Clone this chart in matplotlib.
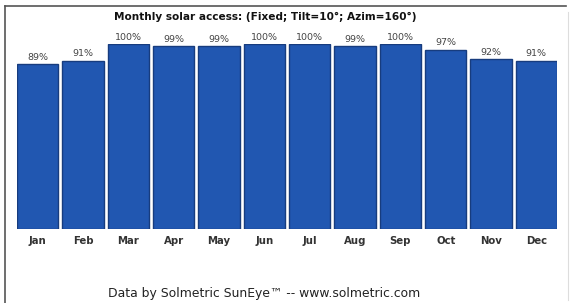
import matplotlib
matplotlib.use("Agg")
import matplotlib.pyplot as plt
from matplotlib.lines import Line2D

months = ["Jan", "Feb", "Mar", "Apr", "May", "Jun", "Jul", "Aug", "Sep", "Oct", "Nov", "Dec"]
access = [89, 91, 100, 99, 99, 100, 100, 99, 100, 97, 92, 91]
title = "Monthly solar access: (Fixed; Tilt=10°; Azim=160°)"
footer = "Data by Solmetric SunEye™ -- www.solmetric.com"

W, H = 574, 303
fig = plt.figure(figsize=(W / 100, H / 100), dpi=100)
fig.patch.set_facecolor("white")

ax = fig.add_axes([17 / W, 1 - 229 / H, 540 / W, (229 - 44) / H])
x = list(range(len(months)))
bars = ax.bar(x, access, width=0.91, color="#2157b1", edgecolor="#173c7e", linewidth=1.0)
ax.set_xlim(-0.455, len(months) - 0.545)
ax.set_ylim(0, 100)
for b, v in zip(bars, access):
    ax.text(b.get_x() + b.get_width() / 2, v + 1.2, f"{v}%", ha="center", va="bottom",
            fontsize=6.8, color="#444444", clip_on=False)
ax.set_xticks(x)
ax.set_xticklabels(months, fontsize=7.3, fontweight="bold", color="#333333")
ax.tick_params(axis="x", length=0, pad=5)
ax.set_yticks([])
for s in ax.spines.values():
    s.set_visible(False)

fig.text(265 / W, 1 - 17 / H, title, ha="center", va="center", fontsize=7.6,
         fontweight="bold", color="#111111")
fig.text(264 / W, 1 - 293 / H, footer, ha="center", va="center", fontsize=8.9, color="#222222")

# frame lines
fig.add_artist(Line2D([5 / W, 566 / W], [1 - 6 / H, 1 - 6 / H], color="#555555", lw=1.2))
fig.add_artist(Line2D([5 / W, 5 / W], [1 - 6 / H, 0], color="#555555", lw=1.2))
fig.add_artist(Line2D([568 / W, 568 / W], [1 - 12 / H, 1 - 300 / H], color="#dddddd", lw=0.8))

fig.savefig("out.png", dpi=100)
